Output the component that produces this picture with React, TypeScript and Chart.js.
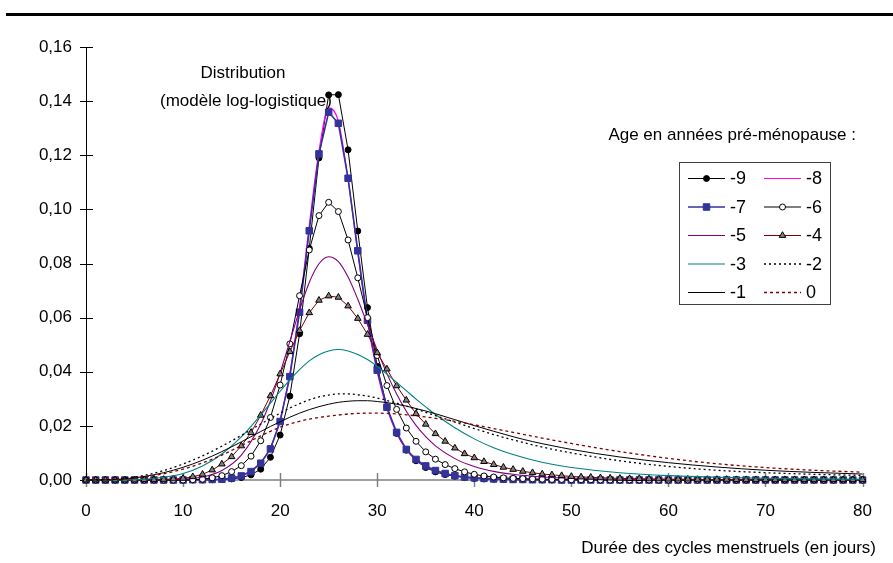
import React, { useEffect, useRef } from 'react';
import { Chart, registerables } from 'chart.js';

Chart.register(...registerables);

// ---- data ----
const days = [
  0, 1, 2, 3, 4, 5, 6, 7, 8, 9,
  10, 11, 12, 13, 14, 15, 16, 17, 18, 19,
  20, 21, 22, 23, 24, 25, 26, 27, 28, 29,
  30, 31, 32, 33, 34, 35, 36, 37, 38, 39,
  40, 41, 42, 43, 44, 45, 46, 47, 48, 49,
  50, 51, 52, 53, 54, 55, 56, 57, 58, 59,
  60, 61, 62, 63, 64, 65, 66, 67, 68, 69,
  70, 71, 72, 73, 74, 75, 76, 77, 78, 79,
  80,
];

const sparseDays = [0, 2, 4, 6, 8, 10, 12, 14, 16, 18, 19, 20, 21, 22, 23, 24, 25, 26, 27, 28, 29, 30, 31, 32, 33, 34, 35, 36, 38, 40, 42, 44, 46, 48, 50, 55, 60, 65, 70, 75, 80];

const ageM9 = [
  0, 0, 0, 0, 0, 0, 0, 0, 0, 0,
  0, 0, 0, 0.0001, 0.0002, 0.0004, 0.0009, 0.0019, 0.004, 0.0084,
  0.0166, 0.031, 0.054, 0.0856, 0.119, 0.1423, 0.1424, 0.122, 0.092, 0.0637,
  0.042, 0.027, 0.0172, 0.011, 0.0071, 0.0046, 0.003, 0.002, 0.0014, 0.0009,
  0.0006, 0.0004, 0.0003, 0.0002, 0.00015, 0.0001, 0.0001, 0, 0, 0,
  0, 0, 0, 0, 0, 0, 0, 0, 0, 0,
  0, 0, 0, 0, 0, 0, 0, 0, 0, 0,
  0, 0, 0, 0, 0, 0, 0, 0, 0, 0,
  0,
];

const ageM7 = [
  0, 0, 0, 0, 0, 0, 0, 0, 0, 0,
  0, 0.0001, 0.0001, 0.0002, 0.0003, 0.0007, 0.0015, 0.0031, 0.0062, 0.0115,
  0.0216, 0.0382, 0.062, 0.0921, 0.1205, 0.1359, 0.1318, 0.1115, 0.0847, 0.059,
  0.0406, 0.0269, 0.0176, 0.0113, 0.0076, 0.0052, 0.0035, 0.0024, 0.0016, 0.0011,
  0.0008, 0.0006, 0.0004, 0.0003, 0.0002, 0.0002, 0.0001, 0.0001, 0.0001, 0,
  0, 0, 0, 0, 0, 0, 0, 0, 0, 0,
  0, 0, 0, 0, 0, 0, 0, 0, 0, 0,
  0, 0, 0, 0, 0, 0, 0, 0, 0, 0,
  0,
];

const ageM6 = [
  0, 0, 0, 0, 0, 0, 0, 0, 0, 0,
  0, 0.0001, 0.0003, 0.0008, 0.0016, 0.0031, 0.0053, 0.0088, 0.0145, 0.0231,
  0.0351, 0.0503, 0.0681, 0.085, 0.0977, 0.1026, 0.0992, 0.0887, 0.0747, 0.06,
  0.046, 0.0349, 0.0261, 0.0192, 0.0143, 0.0104, 0.0077, 0.0057, 0.0042, 0.003,
  0.0021, 0.0015, 0.0011, 0.0008, 0.0006, 0.0005, 0.0004, 0.0003, 0.0002, 0.0002,
  0.0001, 0.0001, 0.0001, 0, 0, 0, 0, 0, 0, 0,
  0, 0, 0, 0, 0, 0, 0, 0, 0, 0,
  0, 0, 0, 0, 0, 0, 0, 0, 0, 0,
  0,
];

const ageM4 = [
  0, 0, 0, 0, 0, 0, 0.0001, 0.0001, 0.0002, 0.0004,
  0.0006, 0.0012, 0.0021, 0.0037, 0.0059, 0.0086, 0.0126, 0.0175, 0.0239, 0.0311,
  0.0392, 0.0474, 0.0552, 0.0618, 0.0664, 0.068, 0.0675, 0.0643, 0.0597, 0.0538,
  0.047, 0.041, 0.0348, 0.0295, 0.0245, 0.0206, 0.0171, 0.0143, 0.0118, 0.0097,
  0.0082, 0.0068, 0.0057, 0.0047, 0.0039, 0.0032, 0.0027, 0.0022, 0.0019, 0.0016,
  0.0013, 0.0011, 0.001, 0.0008, 0.0007, 0.0006, 0.0005, 0.0005, 0.0004, 0.0004,
  0.0003, 0.0003, 0.0003, 0.0002, 0.0002, 0.0002, 0.0002, 0.0001, 0.0001, 0.0001,
  0.0001, 0.0001, 0.0001, 0.0001, 0.0001, 0.0001, 0.0001, 0.0001, 0.0001, 0.0001,
  0.0001,
];

// values at sparseDays
const ageM8 = [0, 0, 0, 0, 0, 0, 0.0001, 0.0003, 0.0016, 0.0065, 0.012, 0.0225, 0.0395, 0.064, 0.094, 0.1215, 0.1375, 0.1325, 0.111, 0.084, 0.0585, 0.04, 0.0265, 0.0173, 0.0112, 0.0075, 0.0051, 0.0035, 0.0016, 0.0008, 0.0004, 0.0002, 0.0001, 0.0001, 0.00005, 0, 0, 0, 0, 0, 0];
const ageM5 = [0, 0, 0, 0.00001, 0.00006, 0.0003, 0.0011, 0.0035, 0.0092, 0.0206, 0.0292, 0.0396, 0.0512, 0.0628, 0.073, 0.0799, 0.0825, 0.0807, 0.075, 0.0668, 0.0574, 0.048, 0.0393, 0.0318, 0.0254, 0.0202, 0.016, 0.0126, 0.0079, 0.005, 0.0032, 0.0021, 0.0014, 0.0009, 0.00065, 0.00026, 0.00012, 0.00006, 0.00003, 0.00001, 0.00001];
const ageM3 = [0, 0, 0.00005, 0.0003, 0.001, 0.0024, 0.0052, 0.0096, 0.0159, 0.024, 0.0284, 0.0328, 0.037, 0.0408, 0.044, 0.0463, 0.0477, 0.0482, 0.0477, 0.0464, 0.0445, 0.042, 0.0391, 0.0361, 0.033, 0.0299, 0.027, 0.0242, 0.0193, 0.0152, 0.0119, 0.0094, 0.0074, 0.0058, 0.0046, 0.0027, 0.0016, 0.001, 0.0006, 0.0004, 0.0003];
const ageM2 = [0, 0.0001, 0.0006, 0.0017, 0.0035, 0.0059, 0.0089, 0.0125, 0.0165, 0.0207, 0.0227, 0.0247, 0.0266, 0.0282, 0.0296, 0.0307, 0.0314, 0.0318, 0.0318, 0.0315, 0.031, 0.0303, 0.0294, 0.0284, 0.0273, 0.0262, 0.025, 0.0238, 0.0214, 0.019, 0.0168, 0.0148, 0.013, 0.0114, 0.01, 0.0071, 0.005, 0.0036, 0.0027, 0.0021, 0.0017];
const ageM1 = [0, 0.0001, 0.0004, 0.0013, 0.0027, 0.0047, 0.0073, 0.0105, 0.0141, 0.0179, 0.0198, 0.0215, 0.0232, 0.0247, 0.026, 0.0271, 0.028, 0.0287, 0.0291, 0.0293, 0.0293, 0.029, 0.0286, 0.028, 0.0273, 0.0264, 0.0255, 0.0245, 0.0223, 0.0201, 0.018, 0.016, 0.0142, 0.0127, 0.0113, 0.0085, 0.0064, 0.0048, 0.0036, 0.0028, 0.0022];
const age0 = [0, 0.0001, 0.0004, 0.0011, 0.0023, 0.004, 0.0063, 0.0092, 0.0127, 0.0163, 0.018, 0.0195, 0.0207, 0.0217, 0.0225, 0.0231, 0.0236, 0.024, 0.0244, 0.0246, 0.0247, 0.0247, 0.0246, 0.0244, 0.0241, 0.0237, 0.0233, 0.0228, 0.0217, 0.0204, 0.019, 0.0176, 0.0162, 0.0148, 0.0135, 0.0105, 0.008, 0.006, 0.0046, 0.0036, 0.0029];

const xTicks = [0, 10, 20, 30, 40, 50, 60, 70, 80];
const yTicks = [0, 0.02, 0.04, 0.06, 0.08, 0.1, 0.12, 0.14, 0.16];

const FONT = "'Liberation Sans', Arial, sans-serif";
const FS = 17;

type Style = {
  label: string;
  xs: number[];
  ys: number[];
  color: string;
  width: number;
  dash: number[];
  marker: null | 'circle' | 'rect' | 'triangle';
  mFill?: string;
  mStroke?: string;
  mRadius?: number;
};

const series: Style[] = [
  { label: '-9', xs: days, ys: ageM9, color: '#000000', width: 1, dash: [], marker: 'circle', mFill: '#000000', mStroke: '#000000', mRadius: 3 },
  { label: '-8', xs: sparseDays, ys: ageM8, color: '#FF00FF', width: 1.2, dash: [], marker: null },
  { label: '-7', xs: days, ys: ageM7, color: '#333399', width: 1.6, dash: [], marker: 'rect', mFill: '#333399', mStroke: '#333399', mRadius: 4.6 },
  { label: '-6', xs: days, ys: ageM6, color: '#000000', width: 1, dash: [], marker: 'circle', mFill: '#FFFFFF', mStroke: '#000000', mRadius: 3 },
  { label: '-5', xs: sparseDays, ys: ageM5, color: '#800080', width: 1.1, dash: [], marker: null },
  { label: '-4', xs: days, ys: ageM4, color: '#800000', width: 1, dash: [], marker: 'triangle', mFill: '#808080', mStroke: '#000000', mRadius: 3.8 },
  { label: '-3', xs: sparseDays, ys: ageM3, color: '#008080', width: 1.1, dash: [], marker: null },
  { label: '-2', xs: sparseDays, ys: ageM2, color: '#000000', width: 1.3, dash: [2, 3], marker: null },
  { label: '-1', xs: sparseDays, ys: ageM1, color: '#000000', width: 1, dash: [], marker: null },
  { label: '0', xs: sparseDays, ys: age0, color: '#800000', width: 1.3, dash: [3, 3], marker: null },
];

function drawMarker(ctx: CanvasRenderingContext2D, s: Style, x: number, y: number) {
  if (!s.marker) return;
  const r = s.mRadius || 3;
  ctx.save();
  ctx.setLineDash([]);
  ctx.fillStyle = s.mFill || '#000';
  ctx.strokeStyle = s.mStroke || '#000';
  ctx.lineWidth = 1;
  ctx.beginPath();
  if (s.marker === 'circle') {
    ctx.arc(x, y, r, 0, Math.PI * 2);
  } else if (s.marker === 'rect') {
    const h = r * Math.SQRT1_2;
    ctx.rect(x - h, y - h, 2 * h, 2 * h);
  } else {
    ctx.moveTo(x, y - r);
    ctx.lineTo(x + r * 0.866, y + r * 0.5);
    ctx.lineTo(x - r * 0.866, y + r * 0.5);
    ctx.closePath();
  }
  ctx.fill();
  ctx.stroke();
  ctx.restore();
}

const decorPlugin = {
  id: 'decor',
  beforeDatasetsDraw(chart: any) {
    const { ctx, chartArea } = chart;
    const xs = chart.scales.x;
    const ys = chart.scales.y;
    ctx.save();
    // x axis (grey)
    ctx.strokeStyle = '#808080';
    ctx.lineWidth = 1.5;
    ctx.beginPath();
    ctx.moveTo(chartArea.left, chartArea.bottom);
    ctx.lineTo(chartArea.right, chartArea.bottom);
    ctx.stroke();
    xTicks.forEach((t) => {
      const px = Math.round(xs.getPixelForValue(t)) + 0.5;
      ctx.beginPath();
      ctx.moveTo(px, chartArea.bottom - 7);
      ctx.lineTo(px, chartArea.bottom + 7);
      ctx.stroke();
    });
    // y axis (black)
    ctx.strokeStyle = '#000000';
    ctx.lineWidth = 1;
    ctx.beginPath();
    ctx.moveTo(chartArea.left + 0.5, chartArea.top);
    ctx.lineTo(chartArea.left + 0.5, chartArea.bottom);
    ctx.stroke();
    yTicks.forEach((t) => {
      const py = Math.round(ys.getPixelForValue(t)) + 0.5;
      ctx.beginPath();
      ctx.moveTo(chartArea.left - 6, py);
      ctx.lineTo(chartArea.left + 7, py);
      ctx.stroke();
    });
    ctx.restore();
  },
  afterDraw(chart: any) {
    const { ctx } = chart;
    ctx.save();
    // top rule
    ctx.fillStyle = '#000';
    ctx.fillRect(6, 13, 887, 3);
    // texts
    ctx.font = `${FS}px ${FONT}`;
    ctx.fillStyle = '#000';
    ctx.textBaseline = 'middle';
    ctx.textAlign = 'center';
    ctx.fillText('Distribution', 243, 73);
    ctx.fillText('(modèle log-logistique)', 246, 101);
    ctx.textAlign = 'right';
    ctx.fillText('Age en années pré-ménopause :', 856, 135);
    ctx.fillText('Durée des cycles menstruels (en jours)', 876, 548);
    // legend
    ctx.strokeStyle = '#404040';
    ctx.lineWidth = 1;
    ctx.strokeRect(679.5, 162.5, 151, 142);
    series.forEach((s, i) => {
      const col = i % 2;
      const row = Math.floor(i / 2);
      const x0 = col === 0 ? 688 : 764;
      const x1 = x0 + 37;
      const y = 178.5 + row * 28.5;
      ctx.save();
      ctx.strokeStyle = s.color;
      ctx.lineWidth = s.width;
      ctx.setLineDash(s.dash);
      ctx.beginPath();
      ctx.moveTo(x0, y);
      ctx.lineTo(x1, y);
      ctx.stroke();
      ctx.restore();
      drawMarker(ctx, s, (x0 + x1) / 2, y);
      ctx.textAlign = 'left';
      ctx.fillStyle = '#000';
      ctx.font = `${FS + 1}px ${FONT}`;
      ctx.fillText(s.label, x1 + 5, y + 1);
    });
    ctx.restore();
  },
};

export default function App() {
  const ref = useRef<HTMLCanvasElement | null>(null);
  useEffect(() => {
    if (!ref.current) return;
    const datasets = series.map((s, i) => ({
      label: s.label,
      data: s.xs.map((x, k) => ({ x, y: s.ys[k] })),
      borderColor: s.color,
      borderWidth: s.width,
      borderDash: s.dash,
      backgroundColor: s.color,
      fill: false,
      tension: 0,
      cubicInterpolationMode: s.marker ? 'default' : 'monotone',
      pointStyle: s.marker || 'circle',
      pointRadius: s.marker ? s.mRadius : 0,
      pointBackgroundColor: s.mFill,
      pointBorderColor: s.mStroke,
      pointBorderWidth: 1,
      clip: false,
      order: series.length - i,
    }));
    const chart = new Chart(ref.current, {
      type: 'line',
      data: { datasets } as any,
      options: {
        animation: false,
        responsive: false,
        maintainAspectRatio: false,
        layout: { padding: { left: 0, right: 20, top: 47, bottom: 0 } },
        plugins: { legend: { display: false }, tooltip: { enabled: false } },
        scales: {
          x: {
            type: 'linear',
            min: 0,
            max: 80,
            afterBuildTicks: (s: any) => { s.ticks = xTicks.map((v) => ({ value: v })); },
            ticks: { color: '#000', font: { family: FONT, size: FS }, padding: 21, maxRotation: 0 },
            grid: { display: false, drawTicks: false },
            border: { display: false },
            afterFit: (s: any) => { s.height = 83; },
          },
          y: {
            type: 'linear',
            min: 0,
            max: 0.16,
            afterBuildTicks: (s: any) => { s.ticks = yTicks.map((v) => ({ value: v })); },
            ticks: {
              color: '#000',
              font: { family: FONT, size: FS },
              padding: 14,
              callback: (v: any) => Number(v).toFixed(2).replace('.', ','),
            },
            grid: { display: false, drawTicks: false },
            border: { display: false },
            afterFit: (s: any) => { s.width = 86; },
          },
        },
      } as any,
      plugins: [decorPlugin],
    });
    return () => chart.destroy();
  }, []);
  return (
    <div style={{ position: 'absolute', left: 0, top: 0, width: 893, height: 563, background: '#fff' }}>
      <canvas ref={ref} width={893} height={563} style={{ display: 'block', width: 893, height: 563 }} />
    </div>
  );
}
